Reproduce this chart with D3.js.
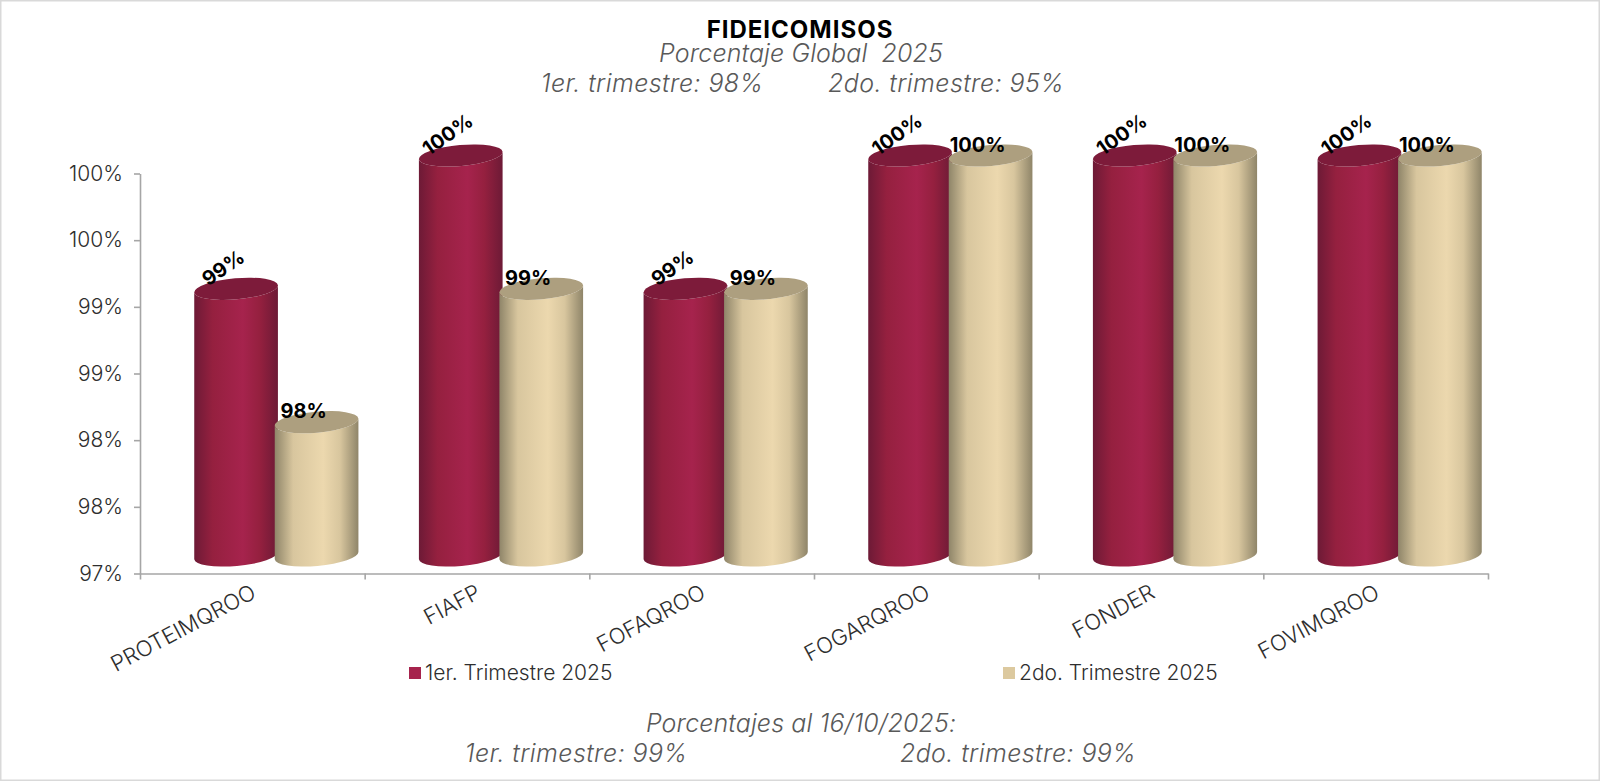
<!DOCTYPE html>
<html lang="es">

<head>
  <meta charset="UTF-8">
  <title>Fideicomisos</title>
  <script src="https://cdnjs.cloudflare.com/ajax/libs/d3/7.0.1/d3.min.js"></script>
  <style>
    html, body { margin: 0; padding: 0; background: #fff; }
    svg { display: block; }
    text { font-family: Inter, 'Open Sans', sans-serif; fill: #2e2e2e; font-weight: 300; }
    .note { font-style: italic; fill: #595959; font-size: 25px; letter-spacing: .4px; white-space: pre; }
    .tight { letter-spacing: .1px; }
    .title { font-weight: 700; fill: #000; font-size: 24px; letter-spacing: 1px; }
    .val { font-weight: 700; fill: #000; font-size: 20px; }
    .tick line, .domain { stroke: #a6a6a6; stroke-width: 1.6; }
  </style>
</head>

<body>
  <div id="my_dataviz"></div>
  <script>
    const categories = ["PROTEIMQROO", "FIAFP", "FOFAQROO", "FOGARQROO", "FONDER", "FOVIMQROO"];
    const seriesNames = ["1er. Trimestre 2025", "2do. Trimestre 2025"];
    const trim1 = [99, 100, 99, 100, 100, 100];
    const trim2 = [98, 99, 99, 100, 100, 100];
    const yTicks = [97, 97.5, 98, 98.5, 99, 99.5, 100];

    const width = 1600, height = 781;
    const plot = { left: 140, right: 1488, top: 173.5, bottom: 573.5 };
    // the cylinders sit back from the axis plane
    const depthX = 24, depthY = 18, rx = 42, ry = 10.5, tilt = 5;

    var svg = d3.select("#my_dataviz").append("svg")
      .attr("width", width).attr("height", height);

    // page frame
    svg.append("rect").attr("x", 0.5).attr("y", 0.5).attr("width", width - 1).attr("height", height - 1)
      .attr("fill", "none").attr("stroke", "#d9d9d9").attr("stroke-width", 2);

    var x = d3.scaleBand().domain(categories).range([plot.left, plot.right]);
    var xEdge = d3.scaleLinear().domain([0, categories.length]).range([plot.left, plot.right]);
    var y = d3.scaleLinear().domain([97, 100]).range([plot.bottom, plot.top]);
    var x1 = d3.scaleBand().domain([0, 1]).range([-80.5, 80.5]);

    // gradients for the cylinder sides
    var defs = svg.append("defs");
    function sideGradient(id, edge, near, mid) {
      var g = defs.append("linearGradient").attr("id", id);
      g.append("stop").attr("offset", "0%").attr("stop-color", edge);
      g.append("stop").attr("offset", "22%").attr("stop-color", near);
      g.append("stop").attr("offset", "58%").attr("stop-color", mid);
      g.append("stop").attr("offset", "78%").attr("stop-color", near);
      g.append("stop").attr("offset", "100%").attr("stop-color", edge);
    }
    sideGradient("side0", "#6d1a36", "#95203f", "#a6234d");
    sideGradient("side1", "#8f8569", "#d8c69e", "#ecd8ae");
    const capColors = ["#7d1b3a", "#ad9f7f"];
    const swatch = ["#a6234d", "#dcc99f"];

    // axes
    svg.append("g")
      .attr("transform", "translate(" + plot.left + ",0)")
      .call(d3.axisLeft(y).tickValues(yTicks).tickSize(6).tickSizeOuter(0).tickFormat(d => d3.format(".0f")(d) + "%"))
      .call(g => g.selectAll("text").attr("font-size", 21).attr("x", -17))
      .attr("font-family", null);

    svg.append("g")
      .attr("transform", "translate(0," + plot.bottom + ")")
      .call(d3.axisBottom(xEdge).tickValues(d3.range(categories.length + 1)).tickSize(6).tickSizeOuter(0).tickFormat(""));

    svg.append("g")
      .attr("transform", "translate(0," + plot.bottom + ")")
      .call(d3.axisBottom(x).tickSize(0))
      .call(g => g.select(".domain").remove())
      .call(g => g.selectAll("text")
        .attr("font-size", 22)
        .attr("text-anchor", "end")
        .attr("transform", "translate(-3,8) rotate(-28)")
        .attr("y", 0).attr("dy", "0.8em"))
      .attr("font-family", null);

    // one cylinder
    function cylinder(g, cx, v, k) {
      var cyTop = y(v) - depthY, cyBase = y(97) - depthY;
      var t = tilt * Math.PI / 180;
      var ax = rx * Math.cos(t), ay = rx * Math.sin(t);
      var rot = -tilt;
      var body = "M" + (cx - ax) + "," + (cyTop + ay)
        + "L" + (cx - ax) + "," + (cyBase + ay)
        + "A" + rx + "," + ry + " " + rot + " 0 0 " + (cx + ax) + "," + (cyBase - ay)
        + "L" + (cx + ax) + "," + (cyTop - ay)
        + "A" + rx + "," + ry + " " + rot + " 0 1 " + (cx - ax) + "," + (cyTop + ay) + "Z";
      g.append("path").attr("d", body).attr("fill", "url(#side" + k + ")");
      g.append("ellipse")
        .attr("rx", rx).attr("ry", ry)
        .attr("transform", "translate(" + cx + "," + cyTop + ") rotate(" + rot + ")")
        .attr("fill", capColors[k]);
    }

    var bars = svg.append("g");
    var labels = svg.append("g");
    categories.forEach(function (c, i) {
      var cx = x(c) + x.bandwidth() / 2 + depthX;
      [trim1, trim2].forEach(function (s, k) {
        var bx = cx + x1(k) + x1.bandwidth() / 2;
        cylinder(bars, bx, s[i], k);
        var lx = bx - 13, ly = y(s[i]) - depthY - (k === 0 ? 21 : 11);
        labels.append("text").attr("class", "val")
          .attr("text-anchor", "middle").attr("dy", "0.35em")
          .attr("transform", "translate(" + lx + "," + ly + ")" + (k === 0 ? " rotate(-35)" : ""))
          .text(s[i] + "%");
      });
    });

    // legend
    var legendX = [409, 1003];
    seriesNames.forEach(function (n, k) {
      svg.append("rect").attr("x", legendX[k]).attr("y", 667).attr("width", 12).attr("height", 12).attr("fill", swatch[k]);
      svg.append("text").attr("x", legendX[k] + 16).attr("y", 673).attr("dy", "0.35em")
        .attr("font-size", 21).text(n);
    });

    // titles and notes
    function note(cls, tx, ty, s) {
      svg.append("text").attr("class", cls).attr("x", tx).attr("y", ty).attr("dy", "0.35em")
        .attr("text-anchor", "middle").text(s);
    }
    note("title", 800, 30, "FIDEICOMISOS");
    note("note tight", 801, 53, "Porcentaje Global  2025");
    note("note", 652, 83, "1er. trimestre: 98%");
    note("note", 946, 83, "2do. trimestre: 95%");
    note("note tight", 801, 723, "Porcentajes al 16/10/2025:");
    note("note", 576, 753, "1er. trimestre: 99%");
    note("note", 1018, 753, "2do. trimestre: 99%");
  </script>
</body>

</html>
